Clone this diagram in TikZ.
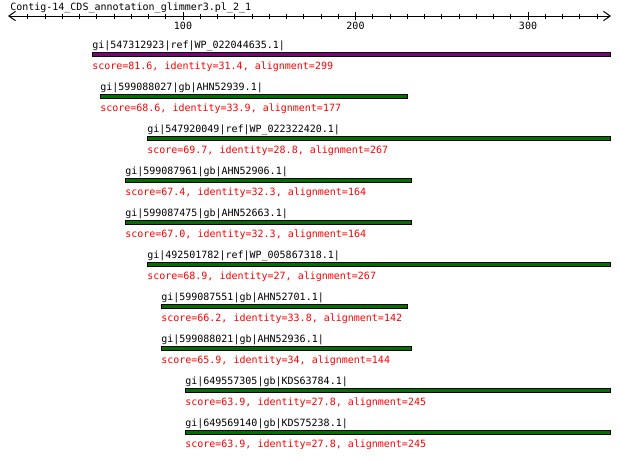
\documentclass[tikz,border=0pt]{standalone}
\usepackage{fontspec}
\setmonofont{DejaVu Sans Mono}
\usetikzlibrary{arrows.meta}
\definecolor{barpurple}{HTML}{800080}
\definecolor{bargreen}{HTML}{007000}
\definecolor{scorered}{HTML}{FF0000}
\newcommand{\hitrow}[7]{%
  \draw[barbox, fill=#5] (#3+0.5,#2+0.5) rectangle (#4-0.5,#2+4.5);
  \coordinate (#1bar) at (#3,#2);
  \node[lab] (#1lab) at (#3,#2-3.2) {#6};
  \node[lab, text=scorered] (#1score) at (#3,#2+17.8) {#7};
}
\begin{document}
\begin{tikzpicture}[x=0.75pt,y=-0.75pt,
  lab/.style={anchor=base west, inner sep=0pt, font=\fontsize{7.5pt}{9pt}\ttfamily},
  barbox/.style={draw=black, line width=0.75pt},
  axisline/.style={line width=0.75pt, {Straight Barb[length=5pt,width=7pt]}-{Straight Barb[length=5pt,width=7pt]}},
  tickline/.style={line width=0.75pt}]
\useasboundingbox (0,0) rectangle (620,461);
\fill[white] (0,0) rectangle (620,461);
\node[lab] (title) at (10,10) {Contig-14\_CDS\_annotation\_glimmer3.pl\_2\_1};
\draw[axisline] (8,16) -- (611,16);
\foreach \v in {10,20,...,340} {
  \draw[tickline] ({183+(\v-100)*1.725},13.5) -- ({183+(\v-100)*1.725},18.5);
}
\foreach \v in {100,200,300} {
  \draw[tickline] ({183+(\v-100)*1.725},12) -- ({183+(\v-100)*1.725},20);
  \node[lab, anchor=base] (t\v) at ({183+(\v-100)*1.725},29.5) {\v};
}
\hitrow{a}{51.5}{92}{611}{barpurple}{gi|547312923|ref|WP\_022044635.1|}{score=81.6, identity=31.4, alignment=299}
\hitrow{b}{93.5}{100}{408}{bargreen}{gi|599088027|gb|AHN52939.1|}{score=68.6, identity=33.9, alignment=177}
\hitrow{c}{135.5}{147}{611}{bargreen}{gi|547920049|ref|WP\_022322420.1|}{score=69.7, identity=28.8, alignment=267}
\hitrow{d}{177.7}{125}{412}{bargreen}{gi|599087961|gb|AHN52906.1|}{score=67.4, identity=32.3, alignment=164}
\hitrow{e}{219.7}{125}{412}{bargreen}{gi|599087475|gb|AHN52663.1|}{score=67.0, identity=32.3, alignment=164}
\hitrow{f}{261.7}{147}{611}{bargreen}{gi|492501782|ref|WP\_005867318.1|}{score=68.9, identity=27, alignment=267}
\hitrow{g}{303.7}{161}{408}{bargreen}{gi|599087551|gb|AHN52701.1|}{score=66.2, identity=33.8, alignment=142}
\hitrow{h}{345.7}{161}{412}{bargreen}{gi|599088021|gb|AHN52936.1|}{score=65.9, identity=34, alignment=144}
\hitrow{i}{387.9}{185}{611}{bargreen}{gi|649557305|gb|KDS63784.1|}{score=63.9, identity=27.8, alignment=245}
\hitrow{j}{429.9}{185}{611}{bargreen}{gi|649569140|gb|KDS75238.1|}{score=63.9, identity=27.8, alignment=245}
\end{tikzpicture}
\end{document}
